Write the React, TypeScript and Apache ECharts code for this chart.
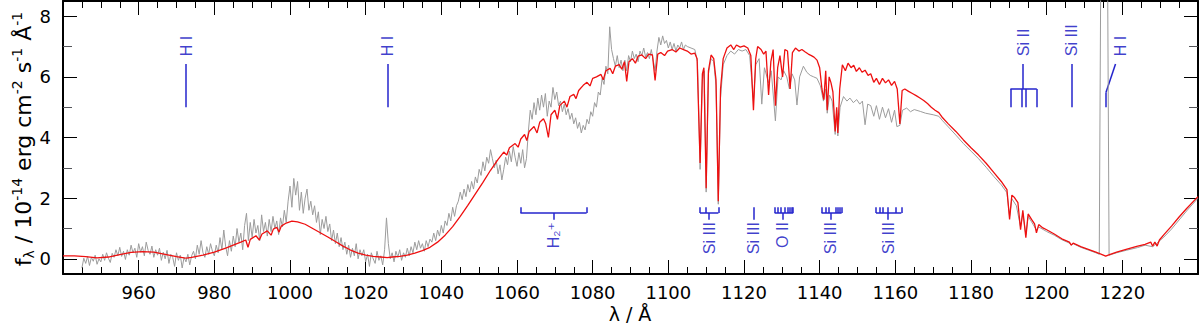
import { useEffect, useRef } from 'react';
import * as echarts from 'echarts';

// ---------- axes ----------
const X_MIN = 940;
const X_MAX = 1240;
const X_INTERVAL = 20;
const Y_MIN = -0.5;
const Y_MAX = 8.5;
const yMajorTicks = [0, 2, 4, 6, 8];
const yMinorTicks = [1, 3, 5, 7];
const X_TITLE = 'λ / Å';
const Y_TITLE_RICH = '{n|f}{sub|λ}{n| / 10}{sup|-14}{n| erg cm}{sup|-2}{n| s}{sup|-1}{n| Å}{sup|-1}';

// ---------- observed spectrum (grey) : [wavelength / Å, flux / 1e-14] ----------
const observedBlue: [number, number][] = [
  [945, -0.3], [945.5, 0.02], [946, -0.15], [946.5, 0.08], [947, -0.22], [947.5, 0.05], [948, -0.08], [948.5, 0.12], [949, -0.18], [949.5, 0.0], [950, -0.1],
  [950.5, 0.15], [951, -0.05], [951.5, 0.2], [952, 0.02], [952.5, -0.12], [953, 0.18], [953.5, 0.05], [954, 0.3], [954.5, 0.1], [955, 0.38], [955.5, 0.08], [956, 0.25], [956.5, -0.02], [957, 0.3],
  [957.5, 0.12], [958, 0.45], [958.5, 0.2], [959, 0.35], [959.5, 0.05], [960, 0.5], [960.5, 0.22], [961, 0.4], [961.5, 0.1], [962, 0.55], [962.5, 0.28], [963, 0.15], [963.5, 0.42], [964, 0.05], [964.5, 0.3], [965, 0.12],
  [965.5, 0.35], [966, -0.05], [966.5, 0.22], [967, 0.0], [967.5, 0.28], [968, -0.15], [968.5, 0.15], [969, 0.05], [969.5, -0.25], [970, 0.2], [970.5, -0.05], [971, 0.12], [971.5, -0.3], [972, 0.05], [972.5, -0.1], [973, 0.15], [973.5, -0.2], [974, 0.1], [974.5, 0.25], [975, 0.0],
  [975.5, 0.45], [976, 0.15], [976.5, 0.6], [977, 0.2], [977.5, 0.05], [978, 0.4], [978.5, 0.15], [979, 0.5], [979.5, 0.25], [980, 0.1], [980.5, 0.45], [981, 0.2],
  [981.5, 0.7], [982, 0.3], [982.5, 0.95], [983, 0.4], [983.5, 0.1], [984, 0.6], [984.5, 0.25], [985, 0.75],
  [985.5, 0.4], [986, 1.0], [986.5, 0.55], [987, 0.85], [987.5, 0.3], [988, 1.1], [988.5, 1.5], [989, 0.6],
  [989.5, 1.2], [990, 0.7], [990.5, 1.3], [991, 0.85], [991.5, 1.1], [992, 0.6], [992.5, 1.45], [993, 0.9], [993.5, 1.2], [994, 0.75],
  [994.5, 1.3], [995, 0.9], [995.5, 1.4], [996, 1.0], [996.5, 1.25], [997, 0.8], [997.5, 1.35], [998, 1.05], [998.5, 1.6], [999, 1.2],
  [999.5, 1.9], [1000, 2.4], [1000.5, 1.7], [1001, 2.65], [1001.5, 2.1], [1002, 2.55], [1002.5, 1.6], [1003, 2.2],
  [1003.5, 1.5], [1004, 2.0], [1004.5, 2.3], [1005, 1.6], [1005.5, 1.9], [1006, 1.45], [1006.5, 1.75],
  [1007, 1.2], [1007.5, 1.55], [1008, 0.8], [1008.5, 1.3], [1009, 1.0], [1009.5, 1.4], [1010, 0.9],
  [1010.5, 1.15], [1011, 0.6], [1011.5, 0.95], [1012, 0.5], [1012.5, 0.85], [1013, 0.4], [1013.5, 0.7],
  [1014, 0.3], [1014.5, 0.55], [1015, 0.15], [1015.5, 0.45], [1016, 0.05], [1016.5, 0.35], [1017, 0.1], [1017.5, 0.5], [1018, 0.0], [1018.5, 0.3], [1019, 0.1],
  [1019.5, 0.3], [1020, -0.1], [1020.5, 0.15], [1021, -0.25], [1021.5, 0.2], [1022, 0.0], [1022.5, -0.15], [1023, 0.25], [1023.5, -0.05], [1024, 0.1], [1024.5, -0.2], [1025, 0.3],
];

const observedRise: [number, number][] = [
  [1025.5, 1.35], [1026, 0.5], [1026.5, 0.0], [1027, 0.2], [1027.5, -0.1], [1028, 0.25], [1028.5, 0.05], [1029, 0.3], [1029.5, -0.05], [1030, 0.2], [1030.5, 0.05], [1031, 0.35], [1031.5, 0.1],
  [1032, 0.4], [1032.5, 0.2], [1033, 0.55], [1033.5, 0.3], [1034, 0.6], [1034.5, 0.35], [1035, 0.5], [1035.5, 0.25], [1036, 0.6], [1036.5, 0.4], [1037, 0.65],
  [1037.5, 0.55], [1038, 0.85], [1038.5, 0.6], [1039, 0.95], [1039.5, 0.75], [1040, 1.1], [1040.5, 0.85],
  [1041, 1.25], [1041.5, 1.1], [1042, 1.5], [1042.5, 1.25], [1043, 1.7], [1043.5, 1.4], [1044, 1.75],
  [1044.5, 1.9], [1045, 2.2], [1045.5, 1.95], [1046, 2.3], [1046.5, 2.05], [1047, 2.45], [1047.5, 2.2], [1048, 2.55], [1048.5, 2.3],
  [1049, 2.7], [1049.5, 2.5], [1050, 2.95], [1050.5, 2.75], [1051, 3.2], [1051.5, 2.9], [1052, 3.35], [1052.5, 3.15], [1053, 3.6],
  [1053.5, 3.3], [1054, 3.0], [1054.5, 3.25], [1055, 2.8], [1055.5, 3.1], [1056, 2.6], [1056.5, 2.95],
  [1057, 3.35], [1057.5, 3.1], [1058, 3.55], [1058.5, 3.2], [1059, 3.7], [1059.5, 3.35], [1060, 3.05], [1060.5, 3.5], [1061, 3.15], [1061.5, 3.6], [1062, 3.0], [1062.5, 3.3],
  [1063, 4.2], [1063.5, 4.9], [1064, 4.6], [1064.5, 5.15], [1065, 4.75],
  [1065.5, 5.3], [1066, 4.9], [1066.5, 5.4], [1067, 5.0], [1067.5, 5.45], [1068, 4.7], [1068.5, 5.2], [1069, 5.0], [1069.5, 5.65], [1070, 5.25], [1070.5, 5.5], [1071, 5.05],
  [1071.5, 5.2], [1072, 4.85], [1072.5, 5.1], [1073, 4.75], [1073.5, 4.95], [1074, 4.6], [1074.5, 4.8], [1075, 4.45], [1075.5, 4.65],
  [1076, 4.3], [1076.5, 4.5], [1077, 4.15], [1077.5, 4.4], [1078, 4.25],
  [1078.5, 4.6], [1079, 4.45], [1079.5, 4.85], [1080, 4.7], [1080.5, 5.15], [1081, 5.0], [1081.5, 5.5], [1082, 5.4],
  [1082.5, 5.95], [1083, 5.75], [1083.5, 6.35], [1084, 6.1], [1084.5, 7.65], [1085, 6.9], [1085.5, 6.6], [1086, 6.35], [1086.5, 6.7], [1087, 6.3], [1087.5, 6.55], [1088, 6.2],
  [1088.5, 6.55], [1089, 6.2], [1089.5, 6.7], [1090, 6.5], [1090.5, 6.85], [1091, 6.6], [1091.5, 6.75], [1092, 6.5], [1092.5, 6.85], [1093, 6.7], [1093.5, 6.95], [1094, 6.65], [1094.5, 6.8], [1095, 6.6], [1095.5, 6.9], [1096, 6.55], [1096.5, 6.2], [1097, 6.85],
  [1097.5, 7.3], [1098, 7.05], [1098.5, 7.35], [1099, 7.1], [1099.5, 7.2],
  [1100, 6.95], [1100.5, 7.15], [1101, 6.9], [1101.5, 7.1], [1102, 6.85], [1102.5, 7.05], [1103, 6.95], [1103.5, 7.15], [1104, 6.9], [1104.5, 7.05],
];

const observedRed: [number, number][] = [
  [1105, 7.0], [1106, 6.95], [1107, 6.9], [1107.7, 6.5], [1108.4, 2.95], [1109, 5.9], [1109.5, 6.2], [1110, 2.2], [1110.6, 6.1], [1111.3, 6.6], [1112, 6.5], [1112.6, 5.7], [1113.2, 1.8], [1113.8, 5.3],
  [1114.5, 6.4], [1115.5, 6.7], [1116.5, 6.85], [1117.5, 6.75], [1118.5, 6.9], [1119.5, 6.85], [1120.5, 6.9], [1121.5, 6.7], [1122.5, 5.2], [1123.1, 6.4], [1124, 6.6], [1124.7, 5.1], [1125.4, 6.3],
  [1126.5, 5.8], [1127.2, 6.2], [1128.3, 4.55], [1129, 6.0], [1129.8, 5.9], [1130.5, 6.2], [1131.3, 6.0], [1132, 5.6], [1132.7, 6.1], [1133.4, 5.9], [1134, 5.07], [1134.7, 6.0], [1135.7, 6.35],
  [1136.6, 6.15], [1137.5, 6.05], [1138.4, 6.0], [1139.3, 5.95], [1140.2, 5.7], [1141, 5.2], [1141.6, 5.6], [1142, 4.8], [1142.6, 5.4], [1143.3, 5.2], [1144.1, 4.1], [1144.5, 4.9], [1144.8, 4.05],
  [1145.4, 5.0], [1146.3, 5.35], [1147.2, 5.2], [1148, 5.3], [1148.9, 5.15], [1149.8, 5.25], [1150.6, 5.1], [1151.3, 5.2], [1152, 4.42], [1152.7, 5.1], [1153.5, 5.05], [1154.3, 4.7], [1155, 5.05],
  [1155.8, 4.6], [1156.6, 5.0], [1157.4, 4.65], [1158.2, 4.95], [1159, 4.5], [1159.8, 4.9], [1160.4, 4.36], [1161.2, 4.4], [1161.9, 4.9], [1163, 4.97], [1164, 4.85], [1165, 4.92], [1166.6, 4.86],
  [1168, 4.8], [1170, 4.75], [1171.5, 4.7], [1172.5, 4.55], [1174, 4.35], [1176, 4.08], [1178, 3.8], [1180, 3.55], [1182, 3.3], [1184, 3.02], [1186, 2.72], [1188, 2.44], [1189.5, 2.18],
  [1190.2, 1.4], [1190.8, 1.98], [1192, 1.75], [1193.1, 1.05], [1193.7, 1.5], [1194.5, 0.8], [1195.1, 1.4], [1196, 1.22], [1197.3, 0.95], [1197.9, 1.05], [1200, 0.9], [1202, 0.78], [1204, 0.63],
  [1206, 0.52], [1206.5, 0.45], [1207, 0.5], [1209, 0.38], [1211, 0.29], [1213, 0.2], [1213.9, 0.15], [1214.3, 9.5], [1216.1, 9.5], [1216.5, 0.12], [1218.5, 0.2], [1221, 0.28], [1224, 0.37],
  [1226, 0.45], [1228, 0.4], [1229, 0.5], [1231, 0.72], [1233, 0.98], [1235, 1.28], [1237, 1.58], [1240, 2.0],
];

// ---------- model spectrum (red) ----------
const modelBlue: [number, number][] = [
  [940, 0.1], [943, 0.1], [946, 0.07], [949, 0.03], [952, 0.06], [955, 0.14], [958, 0.21], [961, 0.24], [964, 0.22], [967, 0.15], [970, 0.07], [972, 0.03], [972.6, 0.02], [974, 0.05],
  [977, 0.12], [980, 0.22], [983, 0.35], [985, 0.45], [987, 0.55], [988.3, 0.62], [988.9, 0.38], [989.5, 0.64], [991, 0.76], [991.9, 0.62], [992.6, 0.82], [994, 0.92], [995, 0.78], [995.6, 0.98],
  [996.5, 1.04], [997.1, 0.88], [997.7, 1.08], [999, 1.18], [1000.5, 1.24], [1002, 1.22], [1004, 1.14], [1006, 1.0], [1008, 0.86], [1010, 0.72], [1012, 0.57], [1014, 0.42], [1016, 0.29],
  [1018, 0.19], [1020, 0.12], [1022, 0.08], [1024, 0.06], [1025.7, 0.04], [1027, 0.06], [1029, 0.08], [1031, 0.12], [1033, 0.19], [1035, 0.27], [1037, 0.38], [1039, 0.55],
];

const modelPeak: [number, number][] = [
  [1041, 0.78], [1043, 1.06], [1045, 1.4], [1047, 1.76], [1049, 2.14], [1051, 2.52], [1053, 2.92], [1055, 3.28], [1056.5, 3.52], [1057.3, 3.42], [1058, 3.66], [1059.5, 3.8], [1060.3, 3.68],
  [1061, 3.95], [1062, 4.1], [1062.6, 3.9], [1063.2, 4.2], [1064.5, 4.36], [1065.3, 4.15], [1066, 4.5], [1067, 4.62], [1067.6, 4.45], [1068.3, 4.0], [1069, 4.75], [1070, 4.9], [1070.7, 4.6],
  [1071.3, 5.05], [1072.5, 5.2], [1073.2, 5.0], [1074, 5.35], [1075, 5.42], [1075.6, 5.28], [1076.3, 5.55], [1077.5, 5.72], [1078.5, 5.82], [1079.3, 5.7], [1080, 5.95], [1081, 6.0], [1082.2, 6.08],
  [1082.8, 5.9], [1083.5, 6.2], [1084.6, 6.28], [1085.3, 6.1], [1086, 6.35], [1087, 6.4], [1087.7, 6.25], [1088.4, 6.5], [1089, 5.85], [1089.6, 6.5], [1090.5, 6.6], [1091.3, 6.45], [1092, 6.68],
  [1093, 6.72], [1094, 6.6], [1094.8, 6.75], [1095.8, 6.72], [1096.5, 5.88], [1097.2, 6.75], [1098, 6.8], [1099, 6.7], [1099.8, 6.85], [1101, 6.9], [1102, 6.82], [1103, 6.95], [1104, 6.9],
  [1105, 6.85], [1106, 6.75], [1107, 6.78], [1107.6, 6.6], [1108.4, 3.16], [1109, 6.1], [1109.4, 6.3], [1110, 2.33], [1110.6, 6.2], [1111.3, 6.72], [1112, 6.6], [1112.6, 5.9], [1113.2, 1.9],
  [1113.8, 5.6], [1114.5, 6.6], [1115.5, 6.95], [1116.5, 7.05], [1117.3, 6.9], [1118, 7.05], [1119, 6.98], [1120, 7.02], [1121, 6.95], [1121.8, 6.7], [1122.5, 4.9], [1123.1, 6.6], [1123.6, 7.0],
  [1124.5, 6.9], [1125.2, 6.75], [1125.8, 6.85], [1126.5, 5.4], [1127.1, 6.5], [1127.7, 6.9], [1128.3, 5.05], [1128.9, 6.3], [1129.5, 6.7], [1130.2, 6.0], [1130.8, 6.9], [1131.5, 6.85],
  [1132.2, 5.6], [1132.8, 6.8], [1133.6, 6.95], [1134.5, 6.85], [1135.3, 6.9], [1136.2, 6.82], [1137, 6.75], [1137.8, 6.7], [1138.5, 6.65], [1139.3, 6.55], [1140, 6.3], [1140.6, 5.6], [1141.1, 5.25],
  [1141.6, 6.2], [1142, 4.9], [1142.5, 6.0], [1143, 5.8], [1143.5, 5.5], [1144.1, 4.2], [1144.5, 5.0], [1144.8, 4.15], [1145.3, 5.6], [1146, 6.4], [1146.8, 6.2], [1147.5, 6.45], [1148.3, 6.3],
  [1149, 6.38], [1149.7, 6.18], [1150.5, 6.3], [1151.2, 6.15], [1152, 6.22], [1152.8, 6.05], [1153.5, 6.1], [1154.3, 5.82], [1155, 5.95], [1155.8, 5.75], [1156.6, 5.95], [1157.4, 5.8], [1158.2, 5.9],
  [1159, 5.72], [1159.8, 5.85], [1160.5, 5.6], [1161.2, 4.45], [1161.8, 5.55], [1162.5, 5.6], [1163.5, 5.52], [1164.5, 5.45], [1165.5, 5.38], [1166.5, 5.3], [1167.5, 5.22], [1168.5, 5.12],
  [1169.5, 5.0], [1170.5, 4.9], [1171.5, 4.82],
];

const modelRed: [number, number][] = [
  [1172.5, 4.65], [1174, 4.45], [1176, 4.2], [1178, 3.92], [1180, 3.66], [1182, 3.42], [1184, 3.15], [1186, 2.85], [1188, 2.55], [1189.5, 2.28], [1190.2, 1.3], [1190.8, 2.1], [1191.5, 2.02],
  [1192.4, 1.85], [1193.1, 0.96], [1193.7, 1.6], [1194.5, 0.7], [1195.1, 1.48], [1196, 1.3], [1196.8, 1.15], [1197.3, 0.86], [1197.9, 1.13], [1199, 1.02], [1200, 0.96], [1202, 0.82], [1204, 0.66],
  [1206, 0.55], [1206.5, 0.45], [1207, 0.52], [1209, 0.4], [1211, 0.31], [1213, 0.22], [1214.5, 0.15], [1215.6, 0.09], [1216.8, 0.15], [1218.5, 0.22], [1221, 0.31], [1223.8, 0.41], [1226, 0.48],
  [1227.5, 0.55], [1228, 0.42], [1228.6, 0.55], [1229.2, 0.42], [1229.8, 0.62], [1231, 0.8], [1233, 1.08], [1235, 1.38], [1237, 1.66], [1240, 2.05],
];

// ---------- line identifications ----------
type LineId = { ion: string; lines: number[]; stem: number; labelAt?: number };
const topIds: LineId[] = [
  { ion: 'H I', lines: [972.54], stem: 972.54 },
  { ion: 'H I', lines: [1025.72], stem: 1025.72 },
  { ion: 'Si II', lines: [1190.42, 1193.29, 1194.5, 1197.39], stem: 1193.8 },
  { ion: 'Si III', lines: [1206.5], stem: 1206.5 },
  { ion: 'H I', lines: [1215.67], stem: 1218.2, labelAt: 1219.6 },
];
const bottomIds: LineId[] = [
  { ion: 'H₂⁺', lines: [1060.9, 1078.4], stem: 1069.6 },
  { ion: 'Si III', lines: [1108.36, 1109.97, 1113.23], stem: 1110.8 },
  { ion: 'Si III', lines: [1122.49], stem: 1122.49 },
  { ion: 'O II', lines: [1128.1, 1128.9, 1129.6, 1130.9, 1131.6, 1132.1, 1132.5, 1133.0], stem: 1130.3 },
  { ion: 'Si III', lines: [1140.5, 1141.5, 1142.3, 1144.2, 1144.8, 1145.3, 1145.8], stem: 1142.9 },
  { ion: 'Si III', lines: [1154.9, 1156.0, 1156.8, 1158.1, 1160.2, 1161.6], stem: 1158.1 },
];
// flux levels (data units) of the identification marks
const TOP_LEVELS = { base: 5.0, bar: 5.6, stemEnd: 6.42, label: 6.68 };
const BOTTOM_LEVELS = { base: 1.7, bar: 1.51, stemEnd: 1.29, label: 1.21 };

type Seg = [[number, number], [number, number]];
function buildSegments(ids: LineId[], lv: { base: number; bar: number; stemEnd: number }): Seg[] {
  const segs: Seg[] = [];
  ids.forEach((id) => {
    if (id.lines.length === 1) {
      const l = id.lines[0];
      if (l === id.stem) {
        segs.push([[l, lv.base], [l, lv.stemEnd]]);
      } else {
        const knee = lv.bar - (lv.bar - lv.base) * 0.2;
        segs.push([[l, lv.base], [l, knee]]);
        segs.push([[l, knee], [id.stem, lv.stemEnd]]);
      }
    } else {
      id.lines.forEach((l) => segs.push([[l, lv.base], [l, lv.bar]]));
      segs.push([[Math.min(...id.lines), lv.bar], [Math.max(...id.lines), lv.bar]]);
      segs.push([[id.stem, lv.bar], [id.stem, lv.stemEnd]]);
    }
  });
  return segs;
}

const BLUE_LINE = '#2424cc';
const BLUE_TEXT = '#0c0cc0';
const FONT = 'DejaVu Sans';
const LABEL_FONT = 'Liberation Sans, DejaVu Sans';

function makeOption() {
  const observed = [...observedBlue, ...observedRise, ...observedRed];
  const model = [...modelBlue, ...modelPeak, ...modelRed];
  const segments = [...buildSegments(topIds, TOP_LEVELS), ...buildSegments(bottomIds, BOTTOM_LEVELS)];

  const frame = () => ({ show: true, onZero: false, lineStyle: { color: '#000', width: 2 } });
  const xb = (position: string) => ({
    type: 'value', position, min: X_MIN, max: X_MAX, interval: X_INTERVAL, axisLine: frame(),
    axisTick: { show: true, inside: true, length: 14 }, minorTick: { show: true, splitNumber: 4, length: 7 },
    splitLine: { show: false }, minorSplitLine: { show: false },
  });
  const yb = (position: string, major: boolean) => ({
    type: 'value', position, min: Y_MIN, max: Y_MAX, splitLine: { show: false },
    axisLine: major ? frame() : { show: false },
    axisTick: { show: true, inside: true, length: major ? 14 : 9, customValues: major ? yMajorTicks : yMinorTicks },
    axisLabel: { show: false },
  });
  const idLabel = {
    show: true, rotate: 90, verticalAlign: 'middle', formatter: '{b}',
    fontSize: 16, fontFamily: LABEL_FONT, color: BLUE_TEXT, textBorderWidth: 0,
  };

  return {
    animation: false,
    backgroundColor: '#fff',
    grid: { left: 63, right: 2, top: 1, bottom: 52 },
    xAxis: [
      {
        ...xb('bottom'),
        axisLabel: {
          formatter: (v: number) => String(v), showMinLabel: false, showMaxLabel: false,
          margin: 9, fontSize: 18, fontFamily: FONT, color: '#000',
        },
      },
      { ...xb('top'), axisLabel: { show: false } },
    ],
    yAxis: [
      {
        ...yb('left', true),
        axisLabel: {
          show: true, customValues: yMajorTicks, margin: 12, fontSize: 18, fontFamily: FONT, color: '#000',
          formatter: (v: number) => String(v),
        },
      },
      yb('left', false),
      yb('right', true),
      yb('right', false),
    ],
    graphic: [
      {
        type: 'text', x: 630, y: 314, silent: true,
        style: { text: X_TITLE, align: 'center', verticalAlign: 'middle', fontSize: 19, fontFamily: FONT, fill: '#000' },
      },
      {
        type: 'text', x: 23, y: 139, rotation: Math.PI / 2, silent: true,
        style: {
          text: Y_TITLE_RICH, align: 'center', verticalAlign: 'middle', fill: '#000', fontFamily: FONT, fontSize: 22,
          rich: {
            n: { fontSize: 22, fontFamily: FONT, fill: '#000', lineHeight: 26 },
            sup: { fontSize: 14, fontFamily: FONT, fill: '#000', lineHeight: 14, verticalAlign: 'top' },
            sub: { fontSize: 14, fontFamily: FONT, fill: '#000', lineHeight: 14, verticalAlign: 'bottom' },
          },
        },
      },
    ],
    series: [
      {
        type: 'line', name: 'observed', data: observed, showSymbol: false,
        lineStyle: { color: '#9c9c9c', width: 1 }, z: 2,
      },
      {
        type: 'line', name: 'model', data: model, showSymbol: false,
        lineStyle: { color: '#ee1010', width: 1.3 }, z: 3,
      },
      {
        type: 'lines', coordinateSystem: 'cartesian2d',
        data: segments.map((s) => ({ coords: s })),
        lineStyle: { color: BLUE_LINE, width: 1.5, opacity: 1 },
      },
      {
        type: 'scatter', symbolSize: 1, itemStyle: { color: 'rgba(0,0,0,0)' },
        data: topIds.map((id) => ({ name: id.ion, value: [id.labelAt ?? id.stem, TOP_LEVELS.label] })),
        label: { ...idLabel, position: 'inside', align: 'left' },
      },
      {
        type: 'scatter', symbolSize: 1, itemStyle: { color: 'rgba(0,0,0,0)' },
        data: bottomIds.map((id) => ({ name: id.ion, value: [id.labelAt ?? id.stem, BOTTOM_LEVELS.label] })),
        label: { ...idLabel, position: 'inside', align: 'right' },
      },
    ],
  };
}

export default function App() {
  const ref = useRef<HTMLDivElement>(null);
  useEffect(() => {
    if (!ref.current) return;
    const chart = echarts.init(ref.current, null, { renderer: 'svg' });
    chart.setOption(makeOption() as any);
    return () => chart.dispose();
  }, []);
  return (
    <div
      ref={ref}
      style={{ position: 'fixed', left: 0, top: 0, width: 1200, height: 326, background: '#fff' }}
    />
  );
}
